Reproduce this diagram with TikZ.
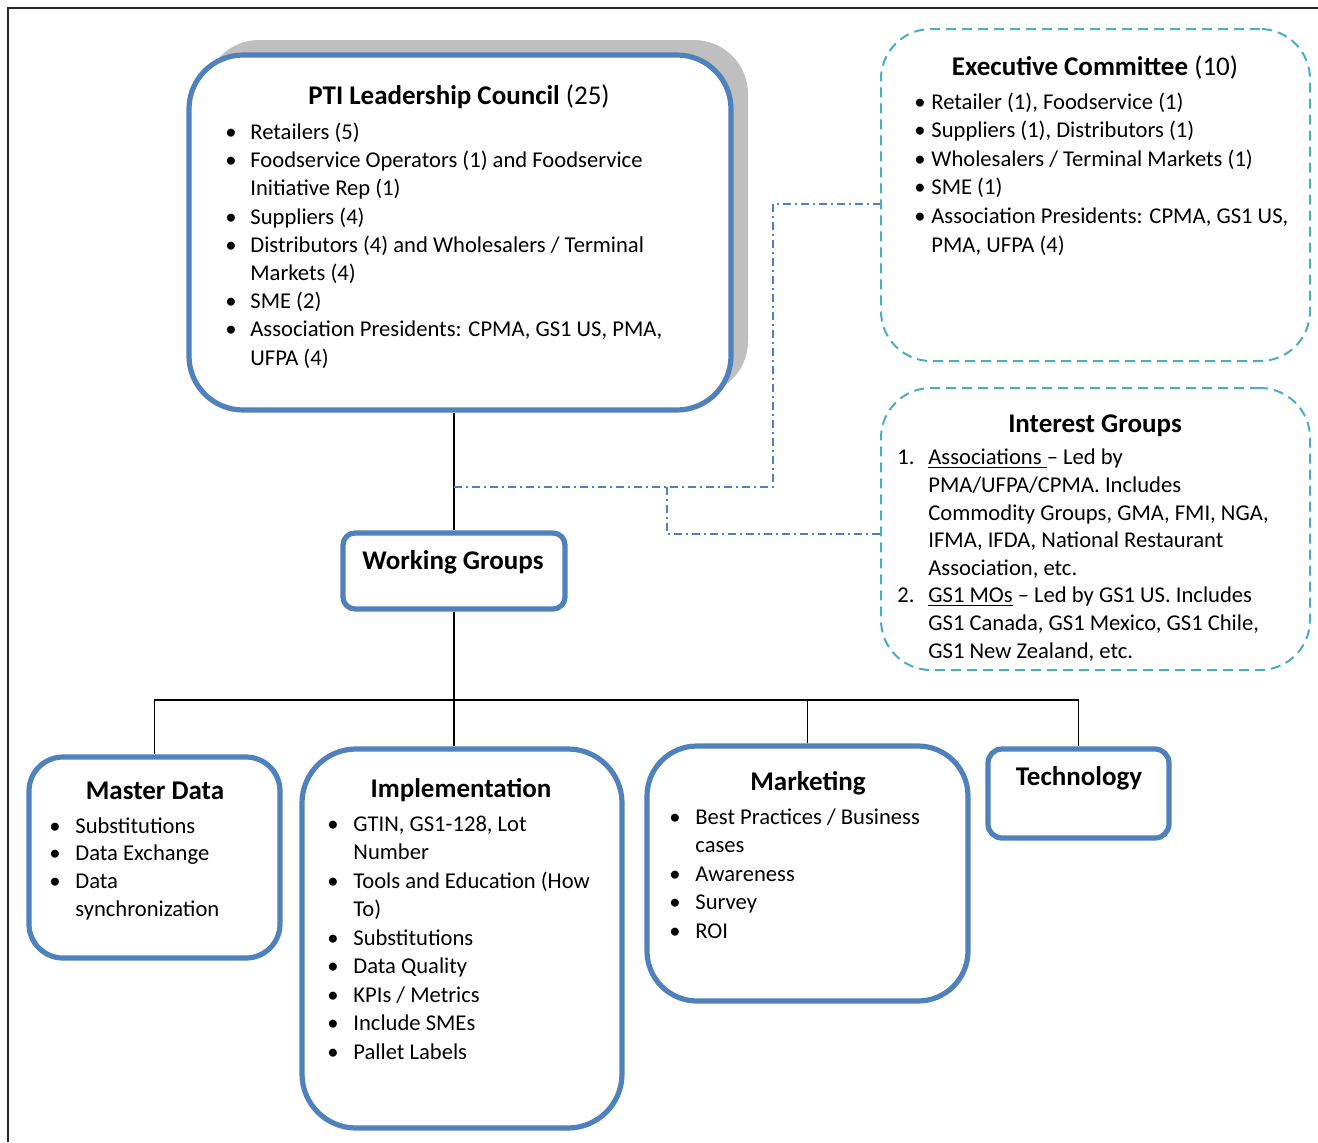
\documentclass[tikz,border=0pt]{standalone}
\usepackage{fontspec}
\setmainfont{Carlito}
\usepackage{tikz}
\usetikzlibrary{positioning,calc}
\definecolor{boxblue}{RGB}{79,129,189}
\definecolor{dashcyan}{RGB}{75,172,198}
\definecolor{shadowgray}{RGB}{191,191,191}
\newcommand{\bul}[1][12.5pt]{\makebox[#1][l]{\textbullet}}
\newcommand{\ind}[1][12.5pt]{\hspace*{#1}}

\begin{document}
\begin{tikzpicture}[x=0.5pt, y=-0.5pt,
  groupbox/.style={draw=boxblue, line width=2.6pt, fill=white, inner sep=0pt},
  sidebox/.style={draw=dashcyan, line width=1pt, dash pattern=on 5pt off 3pt,
    fill=white, inner sep=0pt, rounded corners=25pt,
    minimum width=214.5pt},
  boxtitle/.style={anchor=base, inner sep=0pt, font=\fontsize{13.5}{16}\selectfont},
  % anchored at the baseline of the LAST line
  listtext/.style={anchor=base west, align=left, inner sep=0pt,
    font=\fontsize{11.3}{#1}\selectfont},
  listtext/.default=14.2pt,
  tree/.style={draw=black, line width=0.7pt},
  link/.style={draw=boxblue, line width=0.6pt,
    dash pattern=on 4pt off 2pt on 1pt off 2pt}]
  \useasboundingbox (0,0) rectangle (1318,1142);

  % Page frame (top and left edges only)
  \draw[black!85, line width=0.8pt] (8,1142) -- (8,8) -- (1318,8);

  % Leadership council with its shadow
  \fill[shadowgray, rounded corners=27pt] (205,40) rectangle (748,395);
  \node[groupbox, rounded corners=27pt, minimum width=271pt, minimum height=177.5pt]
    (pti) at (460,232.5) {};
  \node[boxtitle] (ptititle) at (459,104)
    {\textbf{PTI Leadership Council} (25)};
  \node[listtext=14.1pt] (ptilist) at (225,365) {%
    \bul Retailers (5)\\
    \bul Foodservice Operators (1) and Foodservice\\
    \ind Initiative Rep (1)\\
    \bul Suppliers (4)\\
    \bul Distributors (4) and Wholesalers / Terminal\\
    \ind Markets (4)\\
    \bul SME (2)\\
    \bul Association Presidents: CPMA, GS1 US, PMA,\\
    \ind UFPA (4)};

  % Executive committee
  \node[sidebox, minimum height=166pt] (exec) at (1095.5,195) {};
  \node[boxtitle] (exectitle) at (1095,75)
    {\textbf{Executive Committee} (10)};
  \node[listtext=14.3pt] (execlist) at (914,252) {%
    \bul[8.5pt]Retailer (1), Foodservice (1)\\
    \bul[8.5pt]Suppliers (1), Distributors (1)\\
    \bul[8.5pt]Wholesalers / Terminal Markets (1)\\
    \bul[8.5pt]SME (1)\\
    \bul[8.5pt]Association Presidents: CPMA, GS1 US,\\
    \ind[8.5pt]PMA, UFPA (4)};

  % Interest groups
  \node[sidebox, minimum height=141pt] (ig) at (1095.5,529) {};
  \node[boxtitle] (igtitle) at (1095,432) {\textbf{Interest Groups}};
  \node[listtext=13.8pt] (iglist) at (897,658) {%
    \makebox[15.5pt][l]{1.}\underline{Associations\ }– Led by\\
    \ind[15.5pt]PMA/UFPA/CPMA. Includes\\
    \ind[15.5pt]Commodity Groups, GMA, FMI, NGA,\\
    \ind[15.5pt]IFMA, IFDA, National Restaurant\\
    \ind[15.5pt]Association, etc.\\
    \makebox[15.5pt][l]{2.}\underline{GS1 MOs} – Led by GS1 US. Includes\\
    \ind[15.5pt]GS1 Canada, GS1 Mexico, GS1 Chile,\\
    \ind[15.5pt]GS1 New Zealand, etc.};

  % Working groups
  \node[groupbox, rounded corners=6pt, minimum width=111pt, minimum height=38pt]
    (wg) at (454,571) {};
  \node[boxtitle] (wgtitle) at (453,569) {\textbf{Working Groups}};

  % The four working groups
  \node[groupbox, rounded corners=17pt, minimum width=125.5pt, minimum height=100.5pt]
    (md) at (154.5,857.5) {};
  \node[boxtitle] (mdtitle) at (155,799) {\textbf{Master Data}};
  \node[listtext=13.8pt] (mdlist) at (49,916) {%
    \bul[13pt]Substitutions\\
    \bul[13pt]Data Exchange\\
    \bul[13pt]Data\\
    \ind[13pt]synchronization};

  \node[groupbox, rounded corners=27pt, minimum width=160pt, minimum height=189.5pt]
    (impl) at (462,938.5) {};
  \node[boxtitle] (impltitle) at (461,797) {\textbf{Implementation}};
  \node[listtext=14.25pt] (impllist) at (327,1059) {%
    \bul[13pt]GTIN, GS1-128, Lot\\
    \ind[13pt]Number\\
    \bul[13pt]Tools and Education (How\\
    \ind[13pt]To)\\
    \bul[13pt]Substitutions\\
    \bul[13pt]Data Quality\\
    \bul[13pt]KPIs / Metrics\\
    \bul[13pt]Include SMEs\\
    \bul[13pt]Pallet Labels};

  \node[groupbox, rounded corners=25pt, minimum width=160.5pt, minimum height=127.5pt]
    (mkt) at (807.5,873.5) {};
  \node[boxtitle] (mkttitle) at (808,790) {\textbf{Marketing}};
  \node[listtext=14.25pt] (mktlist) at (669,938) {%
    \bul[13pt]Best Practices / Business\\
    \ind[13pt]cases\\
    \bul[13pt]Awareness\\
    \bul[13pt]Survey\\
    \bul[13pt]ROI};

  \node[groupbox, rounded corners=7pt, minimum width=90.5pt, minimum height=44.5pt]
    (tech) at (1078.5,793.5) {};
  \node[boxtitle] (techtitle) at (1079,785) {\textbf{Technology}};

  % Tree connectors
  \coordinate (bus) at (454,700);
  \coordinate (tap) at (454,487);
  \draw[tree] (wg.north |- pti.south) -- (wg.north);
  \draw[tree] (wg.south) -- (impl.north -| wg.south);
  \draw[tree] (md.north) |- (bus) -| (tech.north);
  \draw[tree] (mkt.north) -- (mkt.north |- bus);

  % Links to the side committees
  \draw[link] (tap) -| (773,204) -- (exec.west |- 0,204);
  \draw[link] (667,487) -- (667,534) -- (ig.west |- 0,534);
\end{tikzpicture}
\end{document}
